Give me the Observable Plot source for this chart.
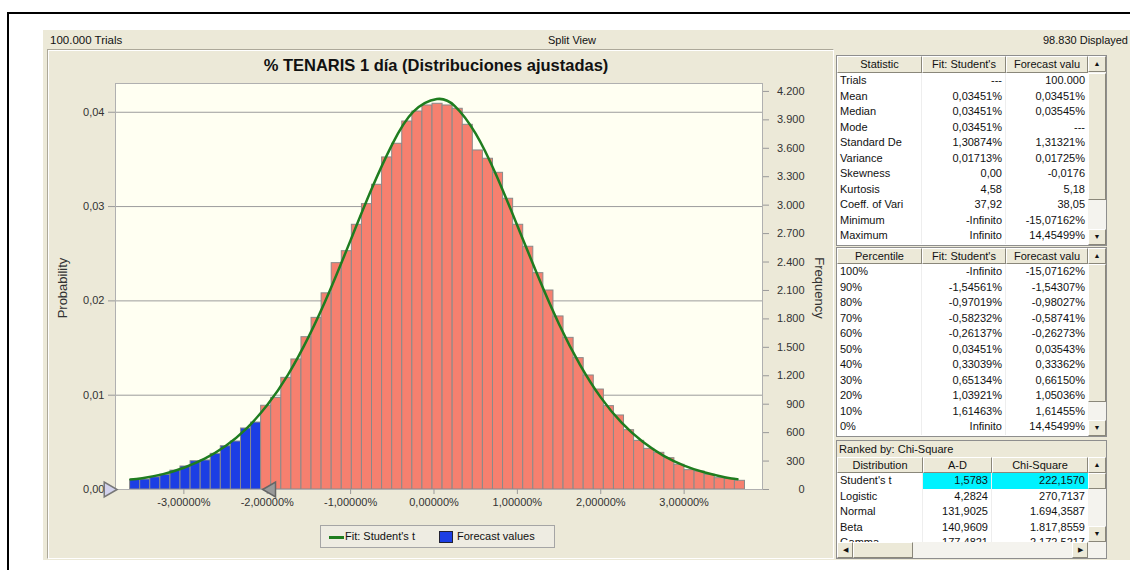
<!DOCTYPE html>
<html><head><meta charset="utf-8">
<script src="https://cdn.jsdelivr.net/npm/d3@7"></script>
<script src="https://cdn.jsdelivr.net/npm/@observablehq/plot@0.6"></script>
<style>
body{margin:0;width:1130px;height:570px;overflow:hidden;position:relative;background:#fff;font-family:"Liberation Sans",Arial,sans-serif;color:#111;}
div{box-sizing:border-box;}
</style></head><body>
<div id="root" style="position:absolute;left:0;top:0;width:1130px;height:570px;"></div>
<script>
// ---------- data ----------
const chartTitle = "% TENARIS 1 día (Distribuciones ajustadas)";
const trialsText = "100.000 Trials", viewText = "Split View", displayedText = "98.830 Displayed";
// histogram bins (in %), probabilities
const binStart = -3.645, binWidth = 0.1209, tailBins = 13;
const probs = [0.00103,0.00106,0.0013,0.00156,0.0020,0.00244,0.0030,0.00308,0.00378,0.00459,
  0.00509,0.00647,0.0071,0.00888,0.00972,0.01184,0.01379,0.01615,0.0182,0.0208,
  0.0240,0.02527,0.02807,0.03026,0.03231,0.03521,0.03666,0.03902,0.04008,0.04072,
  0.0409,0.04072,0.04037,0.03867,0.03595,0.03507,0.03358,0.03083,0.02807,0.02574,
  0.02294,0.0211,0.01835,0.01608,0.01393,0.01209,0.0106,0.00884,0.00785,0.00629,
  0.00516,0.00431,0.00389,0.00332,0.00262,0.00205,0.00191,0.00156,0.0012,0.00113,0.00092];
// fitted Student's t curve
const fitX = [-3.64,-3.5,-3.25,-3.0,-2.75,-2.5,-2.25,-2.0,-1.75,-1.5,-1.25,-1.0,-0.75,-0.5,-0.25,0.035,0.25,0.5,0.75,1.0,1.25,1.5,1.75,2.0,2.25,2.5,2.75,3.0,3.25,3.5,3.64];
const fitP = [0.00105,0.0012,0.00163,0.00231,0.00327,0.00461,0.00646,0.00895,0.01219,0.01626,0.02108,0.02644,0.03183,0.03662,0.04004,0.0414,0.04066,0.03774,0.03327,0.02797,0.02255,0.01753,0.01325,0.00977,0.00708,0.00508,0.0036,0.00254,0.0018,0.00128,0.0011];
const xTicks = [-3,-2,-1,0,1,2,3];
const probTicks = [0,0.01,0.02,0.03,0.04];
const freqTicks = [0,300,600,900,1200,1500,1800,2100,2400,2700,3000,3300,3600,3900,4200];
const FREQ_PER_PROB = 99500;
const certaintyLow = -3.82, certaintyHigh = -2.0;
const yLabel = "Probability", y2Label = "Frequency";
const legendFit = "Fit: Student's t", legendForecast = "Forecast values";

const statHeader = ["Statistic","Fit: Student's","Forecast valu"];
const statLabels = ["Trials","Mean","Median","Mode","Standard De","Variance","Skewness","Kurtosis","Coeff.  of Vari","Minimum","Maximum"];
const statFit = ["---","0,03451%","0,03451%","0,03451%","1,30874%","0,01713%","0,00","4,58","37,92","-Infinito","Infinito"];
const statForecast = ["100.000","0,03451%","0,03545%","---","1,31321%","0,01725%","-0,0176","5,18","38,05","-15,07162%","14,45499%"];

const pctHeader = ["Percentile","Fit: Student's","Forecast valu"];
const pctLabels = ["100%","90%","80%","70%","60%","50%","40%","30%","20%","10%","0%"];
const pctFit = ["-Infinito","-1,54561%","-0,97019%","-0,58232%","-0,26137%","0,03451%","0,33039%","0,65134%","1,03921%","1,61463%","Infinito"];
const pctForecast = ["-15,07162%","-1,54307%","-0,98027%","-0,58741%","-0,26273%","0,03543%","0,33362%","0,66150%","1,05036%","1,61455%","14,45499%"];

const rankLabel = "Ranked by: Chi-Square";
const distHeader = ["Distribution","A-D","Chi-Square"];
const distNames = ["Student's t","Logistic","Normal","Beta","Gamma"];
const distAD = ["1,5783","4,2824","131,9025","140,9609","177,4821"];
const distChi = ["222,1570","270,7137","1.694,3587","1.817,8559","2.172,5217"];

// ---------- styles ----------
const PINK = "#F6806F", BLUE = "#1C3EE4", GREEN = "#1f7d1f", BEIGE = "#ECE9D8";
const root = document.getElementById("root");
function box(parent, l, t, w, h, style = {}, text) {
  const e = document.createElement("div");
  Object.assign(e.style, {position:"absolute", left:l+"px", top:t+"px", width:w+"px", height:h+"px"}, style);
  if (text != null) e.textContent = text;
  parent.appendChild(e);
  return e;
}
const txt = (extra) => Object.assign({fontSize:"11px", whiteSpace:"nowrap", overflow:"hidden"}, extra);

// outer frame + panel
box(root, 7, 12, 1130, 570, {borderTop:"2px solid #000", borderLeft:"2px solid #000"});
box(root, 43, 30, 1087, 530, {background:BEIGE});
box(root, 50, 32, 200, 16, txt({lineHeight:"16px", fontSize:"11.5px"}), trialsText);
box(root, 472, 32, 200, 16, txt({lineHeight:"16px", textAlign:"center"}), viewText);
box(root, 900, 32, 228, 16, txt({lineHeight:"16px", textAlign:"right"}), displayedText);
box(root, 47, 49, 787, 510, {borderTop:"1px solid #ACA899", borderLeft:"1px solid #ACA899", borderRight:"1px solid #fff", borderBottom:"1px solid #fff", boxShadow:"inset 1px 1px 0 #fff"});
box(root, 136, 53, 600, 24, {fontSize:"16.5px", fontWeight:"bold", lineHeight:"24px", textAlign:"center", whiteSpace:"nowrap"}, chartTitle);

// ---------- chart ----------
const bins = probs.map((p, i) => ({x1: binStart + i*binWidth, x2: binStart + (i+1)*binWidth, p, fill: i < tailBins ? BLUE : PINK}));
const fit = fitX.map((x, i) => ({x, p: fitP[i]}));
const fmtPct = d => (d < 0 ? "-" : "") + Math.abs(d).toFixed(5).replace(".", ",") + "%";
const fmtProb = d => d.toFixed(2).replace(".", ",");
const fmtFreq = f => String(f).replace(/\B(?=(\d{3})+(?!\d))/g, ".");

const chart = Plot.plot({
  width: 786, height: 508,
  marginLeft: 68, marginRight: 71, marginTop: 33, marginBottom: 69,
  style: {background:"transparent", fontFamily:"Liberation Sans, Arial, sans-serif", fontSize:"11px", color:"#222", overflow:"visible"},
  x: {domain:[-3.82, 3.94], label:null},
  y: {domain:[0, 0.04305], label:null},
  marks: [
    Plot.frame({fill:"#FFFFF2", stroke:null}),
    Plot.gridY(probTicks.filter(d => d > 0), {stroke:"#9c9c9c", strokeOpacity:1}),
    Plot.rectY(bins, {x1:"x1", x2:"x2", y:"p", fill:"fill", stroke:"#8a8a8a", strokeWidth:1}),
    Plot.line(fit, {x:"x", y:"p", stroke:GREEN, strokeWidth:2.5, curve:"natural"}),
    Plot.frame({stroke:"#b0b0b0"}),
    Plot.axisY(probTicks, {anchor:"left", tickSize:7, tickPadding:4, tickFormat:fmtProb, stroke:"#999", fill:"#333"}),
    Plot.axisY(freqTicks.map(f => f / FREQ_PER_PROB), {anchor:"right", tickSize:6, tickFormat:() => "", stroke:"#999"}),
    Plot.text(freqTicks, {y: f => f / FREQ_PER_PROB, text: fmtFreq, frameAnchor:"right", textAnchor:"end", dx:42, fill:"#333"}),
    Plot.axisX(xTicks, {tickSize:5, tickPadding:4, tickFormat:fmtPct, stroke:"#999", fill:"#333"}),
    Plot.dot([certaintyLow], {x: d => d, y: () => 0, symbol:"triangle", rotate:90, r:5.5, dx:-7, fill:"#D2D2EC", stroke:"#777"}),
    Plot.dot([certaintyHigh], {x: d => d, y: () => 0, symbol:"triangle", rotate:-90, r:5.5, dx:4, fill:"#9a9a9a", stroke:"#666"})
  ]
});
const holder = box(root, 47, 50, 786, 508, {});
holder.appendChild(chart);

// axis titles
box(root, 13, 278, 100, 20, {fontSize:"13px", lineHeight:"20px", textAlign:"center", transform:"rotate(-90deg)", whiteSpace:"nowrap", color:"#333"}, yLabel);
box(root, 769, 278, 100, 20, {fontSize:"13px", lineHeight:"20px", textAlign:"center", transform:"rotate(90deg)", whiteSpace:"nowrap", color:"#333"}, y2Label);

// legend
const leg = box(root, 320, 525, 235, 23, {border:"1px solid #a5a5a5", background:"#EEECE2"});
box(leg, 8, 10, 15, 2.5, {background:GREEN});
box(leg, 24, 0, 100, 21, txt({lineHeight:"21px"}), legendFit);
box(leg, 118, 5, 14, 12, {background:BLUE, border:"1px solid #223"});
box(leg, 136, 0, 100, 21, txt({lineHeight:"21px"}), legendForecast);

// ---------- tables ----------
function raised(e){ Object.assign(e.style, {background:BEIGE, borderTop:"1px solid #fff", borderLeft:"1px solid #fff", borderRight:"1px solid #8a877a", borderBottom:"1px solid #8a877a"}); return e; }
function vScroll(parent, l, t, h, thumbTop, thumbH) {
  box(parent, l, t, 18, h, {background:"#F4F3EE"});
  raised(box(parent, l, t, 18, 16, txt({fontSize:"7px", lineHeight:"14px", textAlign:"center"}), "▲"));
  raised(box(parent, l, t + thumbTop, 18, thumbH));
  raised(box(parent, l, t + h - 16, 18, 16, txt({fontSize:"7px", lineHeight:"14px", textAlign:"center"}), "▼"));
}
function grid(l, t, colW, headerH, rowH, header, cols, h, opt = {}) {
  const totalW = colW.reduce((a, b) => a + b, 0) + 20;
  const g = box(root, l, t, totalW, h, {background:"#fff", border:"1px solid #8e8e8e", overflow:"hidden"});
  let y0 = 0;
  if (opt.topLabel) {
    box(g, 0, 0, totalW, 16, txt({background:BEIGE, lineHeight:"16px", paddingLeft:"2px"}), opt.topLabel);
    y0 = 16;
  }
  let x = 0;
  colW.forEach((w, ci) => {
    raised(box(g, x, y0, w, headerH, txt({lineHeight:(headerH-2)+"px", textAlign:"center"}), header[ci]));
    cols[ci].forEach((v, ri) => {
      const hi = opt.highlight && opt.highlight(ri, ci);
      box(g, x, y0 + headerH + ri*rowH, w, rowH, txt({lineHeight:rowH+"px", textAlign: ci === 0 ? "left" : "right", padding:"0 3px", background: hi ? "#00F2FF" : "transparent", borderRight: ci < colW.length-1 ? "1px solid #eeeeee" : "none"}), v);
    });
    x += w;
  });
  raised(box(g, x, y0, totalW - x - 2, headerH));
  vScroll(g, x, y0, h - y0 - 2 - (opt.hScroll ? 16 : 0), opt.thumbTop, opt.thumbH);
  if (opt.hScroll) {
    const hy = h - 2 - 16;
    box(g, 0, hy, totalW - 2, 16, {background:"#F4F3EE"});
    raised(box(g, 0, hy, 16, 16, txt({fontSize:"7px", lineHeight:"14px", textAlign:"center"}), "◀"));
    raised(box(g, 16, hy, 60, 16));
    raised(box(g, x - 16, hy, 16, 16, txt({fontSize:"7px", lineHeight:"14px", textAlign:"center"}), "▶"));
  }
  return g;
}
grid(836, 55, [85, 84, 82], 17, 15.5, statHeader, [statLabels, statFit, statForecast], 191, {thumbTop:17, thumbH:127});
grid(836, 247, [85, 84, 82], 16, 15.5, pctHeader, [pctLabels, pctFit, pctForecast], 190, {thumbTop:16, thumbH:138});
grid(836, 440, [86, 69, 96], 16, 15.5, distHeader, [distNames, distAD, distChi], 119,
  {topLabel: rankLabel, hScroll:true, thumbTop:16, thumbH:16, highlight:(r, c) => r === 0 && c > 0});
</script></body></html>
